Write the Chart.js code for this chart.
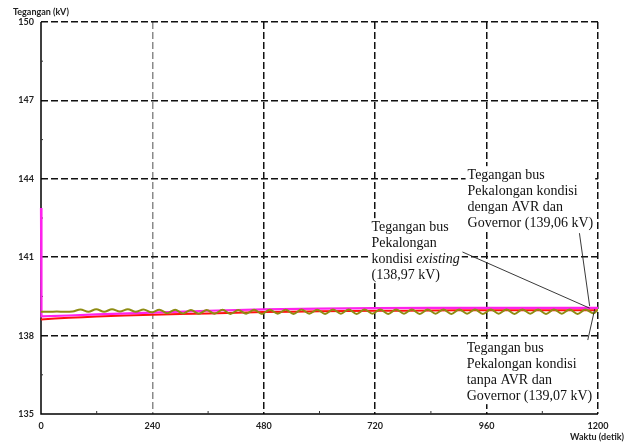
<!DOCTYPE html>
<html><head><meta charset="utf-8">
<script src="https://cdn.jsdelivr.net/npm/chart.js@4/dist/chart.umd.min.js"></script>
<style>html,body{margin:0;padding:0;background:#fff}</style>
</head><body>
<canvas id="c" width="627" height="444"></canvas>
<script>
// ---- data ----
const xTicks = [0, 240, 480, 720, 960, 1200];
const yTicks = [135, 138, 141, 144, 147, 150];
const xMinorTicks = [120, 360, 600, 840, 1080];
const yMinorTicks = [136.5, 139.5, 142.5, 145.5, 148.5];

const timeDenganAVR = [0, 1, 60, 120, 240, 360, 480, 600, 720, 840, 960, 1080, 1200];
const denganAVR     = [142.88, 138.74, 138.77, 138.81, 138.88, 138.95, 139.0, 139.03, 139.05, 139.06, 139.06, 139.06, 139.06];

const timeExisting = [0, 60, 120, 240, 360, 480, 600, 720, 840, 960, 1080, 1200];
const existing     = [138.62, 138.68, 138.73, 138.8, 138.85, 138.9, 138.93, 138.95, 138.96, 138.97, 138.97, 138.97];

const timeTanpaAVR = [0,17,34,51,68,85,102,119,136,153,170,187,204,221,238,255,272,289,306,323,340,357,374,391,408,425,442,459,476,493,510,527,544,561,578,595,612,629,646,663,680,697,714,731,748,765,782,799,816,833,850,867,884,901,918,935,952,969,986,1003,1020,1037,1054,1071,1088,1105,1122,1139,1156,1173,1190,1200];
const tanpaAVR = [138.91,138.91,138.92,138.91,138.92,139.00,138.91,139.01,138.91,139.01,138.92,139.01,138.91,139.00,138.89,138.99,138.86,138.99,138.85,138.98,138.84,138.98,138.84,138.99,138.83,138.98,138.84,138.99,138.83,138.99,138.84,138.99,138.83,139.00,138.84,138.99,138.83,139.00,138.84,139.00,138.83,139.00,138.84,139.00,138.83,139.00,138.84,139.00,138.83,139.00,138.84,139.00,138.83,139.00,138.84,139.00,138.83,139.00,138.84,139.00,138.83,139.00,138.84,139.00,138.83,139.00,138.84,139.00,138.83,139.00,138.85,139.00];

const yTitle = 'Tegangan (kV)';
const xTitle = 'Waktu (detik)';

const annotations = [
  { t: 919, v: 144.14, lines: [[['Tegangan bus', false]], [['Pekalongan kondisi', false]], [['dengan AVR dan', false]], [['Governor (139,06 kV)', false]]],
    leader: [[1160, 141.92], [1182, 139.13]] },
  { t: 712, v: 142.15, lines: [[['Tegangan bus', false]], [['Pekalongan', false]], [['kondisi ', false], ['existing', true]], [['(138,97 kV)', false]]],
    leader: [[908, 141.2], [1182, 139.05]] },
  { t: 917, v: 137.52, lines: [[['Tegangan bus', false]], [['Pekalongan kondisi', false]], [['tanpa AVR dan', false]], [['Governor (139,07 kV)', false]]],
    leader: [[1178, 137.83], [1193, 139.02]] }
];

const pts = (xs, ys) => xs.map((x, i) => ({ x: x, y: ys[i] }));

const extras = {
  id: 'extras',
  beforeDatasetsDraw(chart) {
    const { ctx, chartArea: a, scales: { x, y } } = chart;
    ctx.save();
    ctx.strokeStyle = '#000';
    ctx.lineWidth = 1.5;
    ctx.setLineDash([]);
    ctx.beginPath();
    ctx.moveTo(a.left, a.top); ctx.lineTo(a.left, a.bottom); ctx.lineTo(a.right, a.bottom);
    ctx.stroke();
    ctx.lineWidth = 1;
    ctx.strokeStyle = '#333';
    xMinorTicks.forEach(v => { const px = x.getPixelForValue(v); ctx.beginPath(); ctx.moveTo(px, a.bottom); ctx.lineTo(px, a.bottom - 3); ctx.stroke(); });
    yMinorTicks.forEach(v => { const py = y.getPixelForValue(v); ctx.beginPath(); ctx.moveTo(a.left, py); ctx.lineTo(a.left + 2, py); ctx.stroke(); });
    ctx.restore();
  },
  afterDatasetsDraw(chart) {
    const { ctx, chartArea: a, scales: { x, y } } = chart;
    ctx.save();
    ctx.fillStyle = '#222';
    ctx.font = 'bold 9px Lato';
    ctx.textBaseline = 'middle';
    ctx.textAlign = 'left';
    ctx.fillText(yTitle, 13, a.top - 10);
    ctx.textAlign = 'center';
    ctx.fillText(xTitle, a.right - 1, a.bottom + 23);
    const lh = 16;
    annotations.forEach(an => {
      const px = x.getPixelForValue(an.t);
      const py = y.getPixelForValue(an.v);
      let maxW = 0;
      an.lines.forEach(line => {
        let w = 0;
        line.forEach(([s, it]) => { ctx.font = (it ? 'italic ' : '') + '14px "Liberation Serif"'; w += ctx.measureText(s).width; });
        maxW = Math.max(maxW, w);
      });
      ctx.fillStyle = '#fff';
      ctx.fillRect(px - 2, py - lh / 2 - 1, maxW + 4, lh * an.lines.length + 1);
      ctx.fillStyle = '#111';
      ctx.textAlign = 'left';
      ctx.textBaseline = 'middle';
      an.lines.forEach((line, i) => {
        let cx = px;
        line.forEach(([s, it]) => {
          ctx.font = (it ? 'italic ' : '') + '14px "Liberation Serif"';
          ctx.fillText(s, cx, py + i * lh);
          cx += ctx.measureText(s).width;
        });
      });
    });
    ctx.strokeStyle = '#222';
    ctx.lineWidth = 0.9;
    annotations.forEach(an => {
      const [p0, p1] = an.leader;
      ctx.beginPath();
      ctx.moveTo(x.getPixelForValue(p0[0]), y.getPixelForValue(p0[1]));
      ctx.lineTo(x.getPixelForValue(p1[0]), y.getPixelForValue(p1[1]));
      ctx.stroke();
    });
    ctx.restore();
  }
};

const tickFont = { family: 'Lato', size: 9, weight: 'bold' };

new Chart(document.getElementById('c'), {
  type: 'line',
  data: {
    datasets: [
      { label: 'existing', data: pts(timeExisting, existing), borderColor: '#ff1010', borderWidth: 2, pointRadius: 0, tension: 0.3, order: 3 },
      { label: 'dengan AVR', data: pts(timeDenganAVR, denganAVR), borderColor: '#ff22ee', borderWidth: 2.2, pointRadius: 0, tension: 0, order: 2, clip: { left: 3, top: 0, right: 0, bottom: 0 } },
      { label: 'tanpa AVR', data: pts(timeTanpaAVR, tanpaAVR), borderColor: '#8e8c12', borderWidth: 2, pointRadius: 0, cubicInterpolationMode: 'monotone', order: 1 }
    ]
  },
  options: {
    responsive: false,
    animation: false,
    layout: { padding: { top: 22, right: 29, left: 0, bottom: 0 } },
    plugins: { legend: { display: false }, tooltip: { enabled: false } },
    scales: {
      x: {
        type: 'linear', min: 0, max: 1200,
        afterBuildTicks: s => { s.ticks = xTicks.map(v => ({ value: v })); },
        afterFit: s => { s.height = 30; },
        ticks: { font: tickFont, color: '#222', padding: 7, maxRotation: 0, autoSkip: false, callback: v => String(v) },
        grid: {
          drawTicks: false, lineWidth: 1.5,
          color: c => c.tick && c.tick.value === 0 ? 'rgba(0,0,0,0)' : (c.tick && c.tick.value === 240 ? '#8a8a8a' : '#111')
        },
        border: { display: false, dash: [7, 3] }
      },
      y: {
        type: 'linear', min: 135, max: 150,
        afterBuildTicks: s => { s.ticks = yTicks.map(v => ({ value: v })); },
        afterFit: s => { s.width = 41; },
        ticks: { font: tickFont, color: '#222', padding: 7, callback: v => String(v) },
        grid: {
          drawTicks: false, lineWidth: 1.5,
          color: c => c.tick && c.tick.value === 135 ? 'rgba(0,0,0,0)' : '#111'
        },
        border: { display: false, dash: [7, 3] }
      }
    }
  },
  plugins: [extras]
});
</script>
</body></html>
